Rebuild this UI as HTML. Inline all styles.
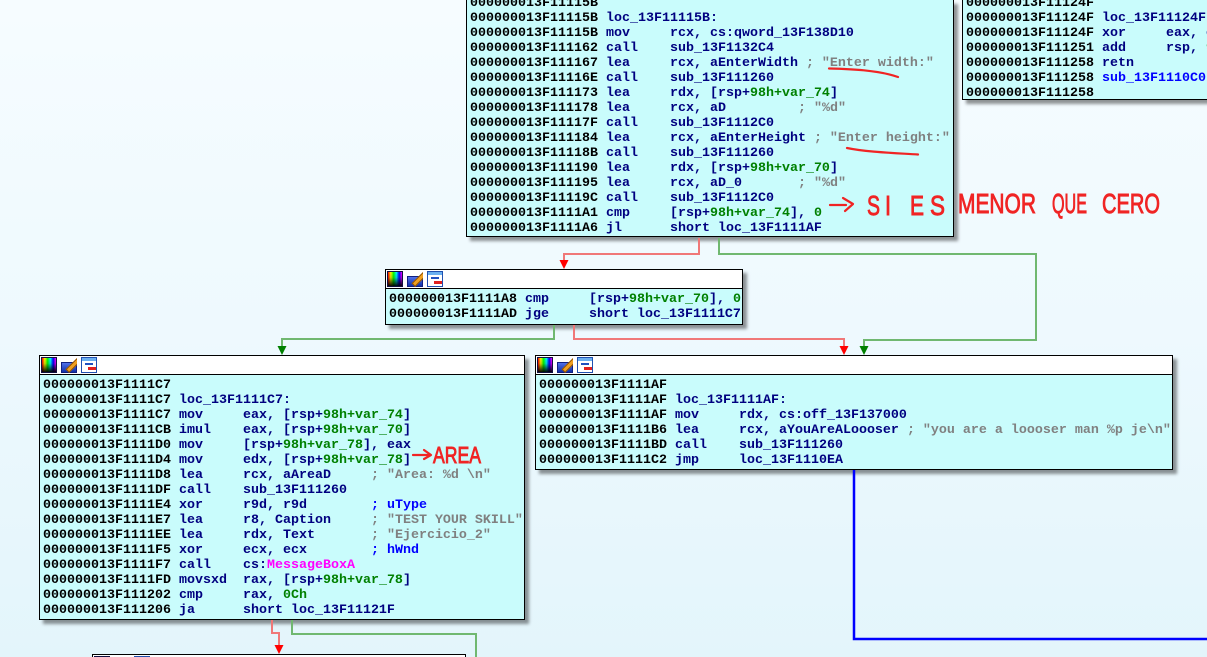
<!DOCTYPE html>
<html>
<head>
<meta charset="utf-8">
<style>
html,body{margin:0;padding:0;width:1207px;height:657px;overflow:hidden;}
#c{position:relative;width:1207px;height:657px;overflow:hidden;
 background:linear-gradient(to bottom,#f6fcff 0%,#eef9fe 50%,#e3f5fb 100%);}
.blk{position:absolute;border:1px solid #000;background:#c9fcfc;box-shadow:4px 4px 3px rgba(0,0,0,0.42);overflow:hidden;}
.hdr{position:absolute;left:0;top:0;right:0;height:18px;background:#fff;border-bottom:1px solid #000;}
pre{position:absolute;margin:0;font-family:"Liberation Mono",monospace;font-weight:bold;font-size:13.333px;line-height:15px;color:#000080;white-space:pre;}
.a{color:#000;}
.g{color:#008000;}
.c{color:#808080;}
.b{color:#0000ff;}
.m{color:#ff00ff;}
.i1,.i2,.i3{position:absolute;top:1px;width:16px;height:16px;box-sizing:border-box;}
.i1{border:1px solid #101040;background:linear-gradient(to bottom,rgba(0,0,0,0) 0%,rgba(0,0,0,0.15) 40%,rgba(0,0,0,0.95) 100%),linear-gradient(to right,#f00,#ff0,#0f0,#0ff,#00f,#f0f);}
.i2{overflow:hidden;}
.i2:before{content:"";position:absolute;left:0;top:5px;width:16px;height:11px;box-sizing:border-box;border:1px solid #102080;background:linear-gradient(to bottom,#5070e8,#1030a8);}
.i2:after{content:"";position:absolute;left:4px;top:6px;width:14px;height:3px;background:#f0a020;border:1px solid #905000;transform:rotate(-45deg);}
.i3{border:1px solid #2050b0;background:linear-gradient(to bottom,#6ab0f0 0,#6ab0f0 3px,#fff 3px,#fff 100%);}
.i3:before{content:"";position:absolute;left:3px;top:5px;width:8px;height:2px;background:#2050c0;}
.i3:after{content:"";position:absolute;left:6px;top:9px;width:8px;height:3px;background:#e02020;}
</style>
</head>
<body>
<div id="c">

<!-- top block -->
<div class="blk" style="left:466px;top:0;width:486px;height:236px;border-top:none;">
<pre style="left:3px;top:-4px;"><span class="a">000000013F11115B</span>
<span class="a">000000013F11115B</span> loc_13F11115B:
<span class="a">000000013F11115B</span> mov     rcx, cs:qword_13F138D10
<span class="a">000000013F111162</span> call    sub_13F1132C4
<span class="a">000000013F111167</span> lea     rcx, aEnterWidth <span class="c">; "Enter width:"</span>
<span class="a">000000013F11116E</span> call    sub_13F111260
<span class="a">000000013F111173</span> lea     rdx, [rsp+<span class="g">98h+var_74</span>]
<span class="a">000000013F111178</span> lea     rcx, aD         <span class="c">; "%d"</span>
<span class="a">000000013F11117F</span> call    sub_13F1112C0
<span class="a">000000013F111184</span> lea     rcx, aEnterHeight <span class="c">; "Enter height:"</span>
<span class="a">000000013F11118B</span> call    sub_13F111260
<span class="a">000000013F111190</span> lea     rdx, [rsp+<span class="g">98h+var_70</span>]
<span class="a">000000013F111195</span> lea     rcx, aD_0       <span class="c">; "%d"</span>
<span class="a">000000013F11119C</span> call    sub_13F1112C0
<span class="a">000000013F1111A1</span> cmp     [rsp+<span class="g">98h+var_74</span>], <span class="g">0</span>
<span class="a">000000013F1111A6</span> jl      short loc_13F1111AF</pre>
</div>

<!-- top right block -->
<div class="blk" style="left:962px;top:0;width:244px;height:99px;border-top:none;border-right:none;">
<pre style="left:3px;top:-4px;"><span class="a">000000013F11124F</span>
<span class="a">000000013F11124F</span> loc_13F11124F:
<span class="a">000000013F11124F</span> xor     eax, eax
<span class="a">000000013F111251</span> add     rsp, <span class="g">98h</span>
<span class="a">000000013F111258</span> retn
<span class="a">000000013F111258</span> <span class="b">sub_13F1110C0 endp</span>
<span class="a">000000013F111258</span></pre>
</div>

<!-- middle block -->
<div class="blk" style="left:385px;top:269px;width:356px;height:54px;">
<div class="hdr"><div class="i1" style="left:1px"></div><div class="i2" style="left:21px"></div><div class="i3" style="left:41px"></div></div>
<pre style="left:3px;top:22px;"><span class="a">000000013F1111A8</span> cmp     [rsp+<span class="g">98h+var_70</span>], <span class="g">0</span>
<span class="a">000000013F1111AD</span> jge     short loc_13F1111C7</pre>
</div>

<!-- left block -->
<div class="blk" style="left:39px;top:355px;width:484px;height:263px;">
<div class="hdr"><div class="i1" style="left:1px"></div><div class="i2" style="left:21px"></div><div class="i3" style="left:41px"></div></div>
<pre style="left:3px;top:22px;"><span class="a">000000013F1111C7</span>
<span class="a">000000013F1111C7</span> loc_13F1111C7:
<span class="a">000000013F1111C7</span> mov     eax, [rsp+<span class="g">98h+var_74</span>]
<span class="a">000000013F1111CB</span> imul    eax, [rsp+<span class="g">98h+var_70</span>]
<span class="a">000000013F1111D0</span> mov     [rsp+<span class="g">98h+var_78</span>], eax
<span class="a">000000013F1111D4</span> mov     edx, [rsp+<span class="g">98h+var_78</span>]
<span class="a">000000013F1111D8</span> lea     rcx, aAreaD     <span class="c">; "Area: %d \n"</span>
<span class="a">000000013F1111DF</span> call    sub_13F111260
<span class="a">000000013F1111E4</span> xor     r9d, r9d        <span class="b">; uType</span>
<span class="a">000000013F1111E7</span> lea     r8, Caption     <span class="c">; "TEST YOUR SKILL"</span>
<span class="a">000000013F1111EE</span> lea     rdx, Text       <span class="c">; "Ejercicio_2"</span>
<span class="a">000000013F1111F5</span> xor     ecx, ecx        <span class="b">; hWnd</span>
<span class="a">000000013F1111F7</span> call    cs:<span class="m">MessageBoxA</span>
<span class="a">000000013F1111FD</span> movsxd  rax, [rsp+<span class="g">98h+var_78</span>]
<span class="a">000000013F111202</span> cmp     rax, <span class="g">0Ch</span>
<span class="a">000000013F111206</span> ja      short loc_13F11121F</pre>
</div>

<!-- right block -->
<div class="blk" style="left:535px;top:355px;width:636px;height:113px;">
<div class="hdr"><div class="i1" style="left:1px"></div><div class="i2" style="left:21px"></div><div class="i3" style="left:41px"></div></div>
<pre style="left:3px;top:22px;"><span class="a">000000013F1111AF</span>
<span class="a">000000013F1111AF</span> loc_13F1111AF:
<span class="a">000000013F1111AF</span> mov     rdx, cs:off_13F137000
<span class="a">000000013F1111B6</span> lea     rcx, aYouAreALoooser <span class="c">; "you are a loooser man %p je\n"</span>
<span class="a">000000013F1111BD</span> call    sub_13F111260
<span class="a">000000013F1111C2</span> jmp     loc_13F1110EA</pre>
</div>

<!-- bottom block (cut off) -->
<div class="blk" style="left:92px;top:654px;width:372px;height:2px;border-bottom:none;box-shadow:none;background:#fff;">
<div class="i1" style="left:1px"></div><div class="i2" style="left:21px"></div><div class="i3" style="left:41px"></div>
</div>

<svg width="1207" height="657" style="position:absolute;left:0;top:0;" xmlns="http://www.w3.org/2000/svg">
<g fill="none" stroke-width="2">
 <polyline points="699,238 699,254 564,254 564,262" stroke="#f07878"/>
 <polyline points="719,238 719,254 1036,254 1036,340 864,340 864,348" stroke="#70b870"/>
 <polyline points="554,325 554,339 282,339 282,348" stroke="#70b870"/>
 <polyline points="574,325 574,339 844,339 844,348" stroke="#f07878"/>
 <polyline points="272,620 272,633 279,633 279,647" stroke="#f07878"/>
 <polyline points="292,620 292,634 476,634 476,657" stroke="#70b870"/>
 <polyline points="854,470 854,639 1207,639" stroke="#0000ff" stroke-width="2.5"/>
</g>
<g stroke="none">
 <polygon points="559.5,260 568.5,260 564,269" fill="#ff0000"/>
 <polygon points="839.5,346 848.5,346 844,355" fill="#ff0000"/>
 <polygon points="859.5,346 868.5,346 864,355" fill="#008000"/>
 <polygon points="277.5,346 286.5,346 282,355" fill="#008000"/>
 <polygon points="274.5,645 283.5,645 279,654" fill="#ff0000"/>
</g>
<g fill="none" stroke="#f02424" stroke-width="2.2" stroke-linecap="round" stroke-linejoin="round">
 <path d="M829 68.5 C850 69 878 70 898 77"/>
 <path d="M847 148 C866 152 895 153 918 154.5"/>
 <path d="M830 205 L846 205 M843 198 L853 204 L845 211"/>
 <path d="M413 455 L428 455 M424 450 L431 455 L424 459"/>
</g>
<g fill="#f02424" stroke="#f02424" stroke-width="0.9" font-family="'Liberation Sans',sans-serif" font-size="28">
 <text x="867" y="215" textLength="13" lengthAdjust="spacingAndGlyphs">S</text>
 <text x="885" y="215" textLength="6" lengthAdjust="spacingAndGlyphs">I</text>
 <text x="910" y="215" textLength="14" lengthAdjust="spacingAndGlyphs">E</text>
 <text x="930" y="215" textLength="15" lengthAdjust="spacingAndGlyphs">S</text>
 <text x="958" y="213" textLength="78" lengthAdjust="spacingAndGlyphs">MENOR</text>
 <text x="1052" y="213" textLength="35" lengthAdjust="spacingAndGlyphs">QUE</text>
 <text x="1102" y="213" textLength="58" lengthAdjust="spacingAndGlyphs">CERO</text>
 <text x="433" y="463" font-size="23" textLength="48" lengthAdjust="spacingAndGlyphs">AREA</text>
</g>
</svg>

</div>
</body>
</html>
